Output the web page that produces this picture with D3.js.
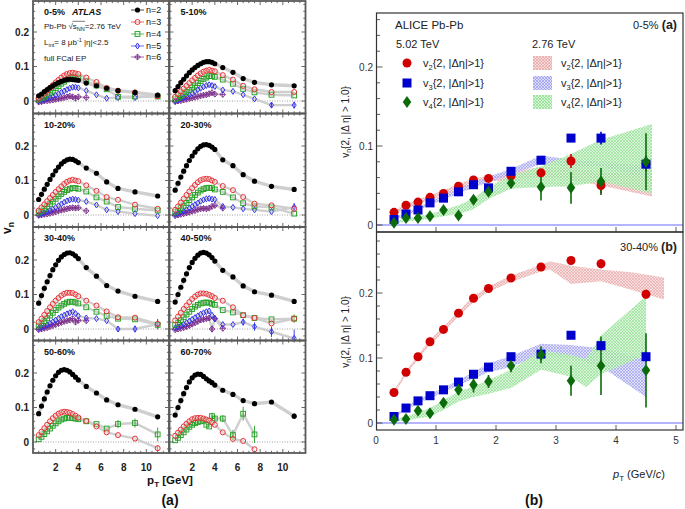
<!DOCTYPE html>
<html><head><meta charset="utf-8">
<script src="https://cdn.jsdelivr.net/npm/d3@7"></script>
<style>body{margin:0;background:#fff}svg{display:block}text{font-family:"Liberation Sans",Arial,Helvetica,sans-serif}</style>
</head><body><svg id="c" width="685" height="509"></svg>
<script>
// ---------------- ATLAS (panel a) data ----------------
const atlasPt = [0.5,0.75,1.0,1.25,1.5,1.75,2.0,2.25,2.5,2.75,3.0,3.25,3.5,3.75,4.0,4.7,5.6,6.5,7.5,9,11];
const centLabels = ["0-5%","5-10%","10-20%","20-30%","30-40%","40-50%","50-60%","60-70%"];
const c0_5 = {
 n2:[0.015,0.02,0.027,0.033,0.039,0.044,0.049,0.053,0.057,0.06,0.062,0.063,0.062,0.061,0.06,0.052,0.044,0.037,0.03,0.025,0.017],
 n3:[0.008,0.015,0.022,0.03,0.038,0.046,0.054,0.061,0.068,0.074,0.078,0.081,0.082,0.08,0.078,0.068,0.055,0.038,0.03,0.025,0.014],
 n4:[0.004,0.008,0.012,0.018,0.024,0.03,0.037,0.043,0.05,0.056,0.062,0.066,0.07,0.07,0.068,0.058,0.045,0.034,0.012,0.013,0.013],
 n5:[0.0,0.002,0.004,0.007,0.01,0.013,0.017,0.021,0.025,0.029,0.033,0.037,0.04,0.04,0.038,0.03,0.018,0.008,0.01,0.01,0.015],
 n6:[-0.003,-0.002,0.0,0.001,0.002,0.003,0.005,0.006,0.008,0.01,0.012,0.014,0.012,0.008,0.012,0.01]};
const c5_10 = {
 n2:[0.03,0.042,0.053,0.063,0.073,0.082,0.09,0.097,0.103,0.108,0.112,0.114,0.114,0.112,0.108,0.097,0.083,0.065,0.054,0.047,0.044],
 n3:[0.012,0.02,0.028,0.036,0.044,0.052,0.06,0.067,0.074,0.08,0.085,0.088,0.09,0.088,0.086,0.075,0.062,0.044,0.034,0.026,0.026],
 n4:[0.005,0.009,0.014,0.02,0.026,0.032,0.039,0.045,0.052,0.058,0.064,0.068,0.072,0.072,0.07,0.062,0.05,0.035,0.025,0.018,0.016],
 n5:[0.0,0.003,0.006,0.01,0.014,0.018,0.023,0.028,0.033,0.037,0.041,0.045,0.047,0.045,0.042,0.032,0.028,0.018,0.006,-0.012,-0.012],
 n6:[-0.002,0.0,0.001,0.003,0.005,0.007,0.009,0.011,0.013,0.015,0.017,0.018,0.021,0.024,0.02,0.019]};
const c10_20 = {
 n2:[0.045,0.06,0.075,0.089,0.103,0.116,0.128,0.139,0.148,0.155,0.16,0.162,0.161,0.157,0.152,0.136,0.121,0.096,0.077,0.067,0.055],
 n3:[0.013,0.022,0.031,0.04,0.049,0.058,0.067,0.075,0.083,0.09,0.096,0.1,0.102,0.1,0.098,0.086,0.07,0.052,0.044,0.03,0.018],
 n4:[0.007,0.012,0.018,0.025,0.032,0.039,0.047,0.054,0.061,0.067,0.072,0.076,0.078,0.078,0.076,0.068,0.051,0.039,0.023,0.018,0.013],
 n5:[0.001,0.003,0.006,0.009,0.013,0.017,0.022,0.027,0.032,0.037,0.041,0.044,0.046,0.045,0.043,0.039,0.029,0.015,0.01,0.004,-0.002],
 n6:[-0.001,0.0,0.002,0.003,0.005,0.007,0.009,0.012,0.014,0.016,0.018,0.02,0.021,0.02,0.021,0.012]};
const c20_30 = {
 n2:[0.072,0.092,0.11,0.127,0.143,0.158,0.171,0.182,0.192,0.199,0.203,0.204,0.202,0.197,0.19,0.16,0.143,0.117,0.098,0.083,0.074],
 n3:[0.015,0.025,0.036,0.047,0.058,0.068,0.078,0.087,0.095,0.101,0.104,0.105,0.104,0.1,0.096,0.084,0.072,0.052,0.033,0.028,0.018],
 n4:[0.008,0.013,0.02,0.027,0.035,0.043,0.051,0.058,0.065,0.071,0.075,0.078,0.079,0.078,0.074,0.067,0.051,0.034,0.025,0.022,0.004],
 n5:[0.002,0.004,0.007,0.011,0.015,0.02,0.025,0.03,0.035,0.04,0.044,0.047,0.048,0.046,0.045,0.025,0.022,0.018,0.015,0.01,0.023],
 n6:[-0.002,0.0,0.002,0.004,0.006,0.008,0.011,0.013,0.016,0.018,0.019,0.018,0.02,0.025,0.028,0.02]};
const c30_40 = {
 n2:[0.075,0.097,0.118,0.137,0.155,0.172,0.186,0.199,0.209,0.216,0.22,0.221,0.218,0.212,0.204,0.178,0.153,0.126,0.11,0.095,0.08],
 n3:[0.02,0.03,0.041,0.052,0.063,0.073,0.082,0.09,0.097,0.102,0.105,0.105,0.104,0.1,0.095,0.082,0.068,0.051,0.034,0.033,0.015],
 n4:[0.01,0.016,0.023,0.031,0.039,0.047,0.055,0.062,0.068,0.073,0.077,0.079,0.079,0.077,0.074,0.063,0.05,0.038,0.03,0.028,0.012],
 n5:[0.002,0.005,0.008,0.012,0.016,0.021,0.026,0.031,0.036,0.04,0.044,0.047,0.05,0.045,0.038,0.032,0.03,0.024,0.0,0.0,0.014],
 n6:[-0.002,0.0,0.002,0.004,0.007,0.01,0.013,0.016,0.019,0.022,0.024,0.026,0.03,0.02,0.025,0.024]};
const c40_50 = {
 n2:[0.078,0.1,0.121,0.141,0.16,0.178,0.193,0.205,0.214,0.22,0.222,0.22,0.215,0.207,0.197,0.17,0.151,0.125,0.108,0.098,0.08],
 n3:[0.025,0.036,0.047,0.058,0.068,0.078,0.087,0.094,0.1,0.103,0.103,0.102,0.099,0.095,0.09,0.082,0.063,0.04,0.032,0.016,0.03],
 n4:[0.012,0.018,0.026,0.034,0.042,0.05,0.058,0.065,0.07,0.074,0.076,0.077,0.076,0.073,0.07,0.055,0.048,0.04,0.032,0.028,0.03],
 n5:[0.003,0.006,0.01,0.014,0.018,0.023,0.028,0.033,0.038,0.043,0.047,0.05,0.052,0.04,0.03,0.013,0.013,0.02,0.007,-0.008,-0.027],
 n6:[-0.002,0.0,0.002,0.004,0.007,0.01,0.014,0.018,0.022,0.026,0.028,0.03,0.032,0.0,0.03,0.002]};
const c50_60 = {
 n2:[0.082,0.104,0.125,0.145,0.163,0.179,0.192,0.202,0.208,0.21,0.208,0.203,0.196,0.188,0.18,0.161,0.142,0.122,0.108,0.095,0.073],
 n3:[0.02,0.03,0.04,0.05,0.06,0.069,0.076,0.082,0.086,0.088,0.087,0.085,0.081,0.076,0.071,0.061,0.045,0.028,0.02,0.01,-0.018],
 n4:[0.008,0.015,0.023,0.031,0.039,0.047,0.054,0.06,0.065,0.068,0.07,0.07,0.069,0.068,0.066,0.06,0.052,0.039,0.052,0.055,0.022]};
const c60_70 = {
 n2:[0.078,0.1,0.12,0.14,0.158,0.174,0.186,0.194,0.197,0.196,0.19,0.183,0.177,0.172,0.165,0.15,0.138,0.12,0.111,0.116,0.075],
 n3:[0.018,0.027,0.036,0.045,0.053,0.06,0.066,0.069,0.07,0.07,0.068,0.065,0.062,0.057,0.05,0.028,0.009,0.003,-0.021],
 n4:[0.005,0.012,0.02,0.028,0.036,0.044,0.05,0.055,0.058,0.06,0.062,0.05,0.045,0.075,0.068,0.068,0.02,0.082,0.022]};
const atlasPanels = [c0_5,c5_10,c10_20,c20_30,c30_40,c40_50,c50_60,c60_70];
// statistical error bars: [panel, harmonic, pT index, error]
const atlasErr = [[1,5,19,0.008],[1,5,20,0.01],[3,5,20,0.012],[4,5,18,0.008],[4,5,19,0.01],[4,5,20,0.015],[4,3,20,0.01],[4,4,20,0.01],
 [5,5,17,0.01],[5,5,18,0.012],[5,5,19,0.015],[5,5,20,0.025],[5,4,20,0.012],[5,6,12,0.008],[5,6,13,0.01],[5,6,14,0.01],
 [6,4,18,0.012],[6,4,19,0.013],[6,4,20,0.02],[6,3,20,0.008],
 [7,4,13,0.01],[7,4,14,0.01],[7,4,15,0.01],[7,4,16,0.015],[7,4,17,0.02],[7,4,18,0.025],[7,2,20,0.008]];
const atlasYTicks = [0,0.1,0.2];
const atlasXTicks = [2,4,6,8,10];

// ---------------- ALICE (panel b) data ----------------
const alicePt = [0.3,0.5,0.7,0.9,1.125,1.375,1.625,1.875,2.25,2.75,3.25,3.75,4.5];
// 0-5%
const a_v2 = [0.016,0.025,0.029,0.035,0.04,0.049,0.057,0.059,0.062,0.066,0.081,0.05,0.078];
const a_v3 = [0.007,0.014,0.019,0.028,0.034,0.042,0.051,0.047,0.068,0.082,0.11,0.11,0.077];
const a_v4 = [0.003,0.009,0.009,0.011,0.019,0.012,0.032,0.042,0.053,0.048,0.047,0.055,0.08];
const a_v2e = [0,0,0,0,0,0,0,0,0.003,0.004,0.009,0.01,0.01];
const a_v3e = [0,0,0,0,0,0,0,0,0.003,0.005,0.004,0.008,0.006];
const a_v4e = [0.002,0.002,0.002,0.002,0.003,0.003,0.004,0.005,0.006,0.017,0.02,0.017,0.036];
const bandA_pt = [0.3,0.5,0.7,0.9,1.125,1.375,1.625,1.875,2.25,2.75,3.25,3.75,4.6];
const bandA_v2lo = [0.013,0.021,0.026,0.032,0.037,0.045,0.052,0.056,0.055,0.061,0.057,0.05,0.036];
const bandA_v2hi = [0.018,0.027,0.032,0.038,0.044,0.052,0.059,0.062,0.066,0.074,0.072,0.066,0.066];
const bandA_v3lo = [0.006,0.012,0.018,0.025,0.032,0.04,0.047,0.054,0.064,0.077,0.074,0.074,0.058];
const bandA_v3hi = [0.009,0.016,0.022,0.03,0.037,0.046,0.054,0.061,0.071,0.088,0.083,0.08,0.074];
const bandA_v4lo = [0.002,0.004,0.006,0.008,0.011,0.014,0.02,0.033,0.046,0.048,0.049,0.055,0.04];
const bandA_v4hi = [0.005,0.008,0.011,0.014,0.019,0.025,0.034,0.048,0.063,0.074,0.09,0.108,0.128];
// 30-40%
const b_v2 = [0.047,0.078,0.102,0.125,0.144,0.169,0.192,0.207,0.223,0.24,0.25,0.245,0.198];
const b_v3 = [0.01,0.023,0.034,0.042,0.051,0.063,0.075,0.086,0.102,0.106,0.135,0.119,0.102];
const b_v4 = [0.005,0.006,0.019,0.015,0.031,0.051,0.059,0.064,0.088,0.105,0.065,0.088,0.081];
const b_v2e = [0,0,0,0,0,0,0,0,0.003,0.004,0.005,0.007,0.007];
const b_v3e = [0,0,0,0,0,0,0,0,0.003,0.005,0.005,0.008,0.008];
const b_v4e = [0.004,0.004,0.005,0.005,0.006,0.008,0.012,0.01,0.01,0.013,0.023,0.045,0.057];
const bandB_v2pt = [0.3,0.5,0.7,0.9,1.125,1.375,1.625,1.875,2.25,2.75,2.9,3.25,3.75,4.25,4.8];
const bandB_v2lo = [0.044,0.074,0.098,0.12,0.14,0.164,0.186,0.202,0.217,0.233,0.236,0.214,0.218,0.205,0.19];
const bandB_v2hi = [0.05,0.08,0.105,0.128,0.148,0.172,0.195,0.21,0.227,0.243,0.249,0.242,0.236,0.232,0.224];
const bandB_v3pt = [0.3,0.5,0.7,0.9,1.125,1.375,1.625,1.875,2.25,2.75,3.25,3.75,4.5];
const bandB_v3lo = [0.008,0.02,0.03,0.038,0.047,0.058,0.068,0.078,0.086,0.105,0.1,0.087,0.04];
const bandB_v3hi = [0.012,0.025,0.036,0.045,0.054,0.066,0.078,0.092,0.103,0.122,0.12,0.115,0.098];
const bandB_v4pt = [0.3,0.5,0.7,0.9,1.125,1.375,1.625,1.875,2.25,2.75,3.25,3.5,3.75,4.5];
const bandB_v4lo = [0.002,0.004,0.007,0.01,0.02,0.033,0.04,0.045,0.054,0.082,0.071,0.055,0.075,0.105];
const bandB_v4hi = [0.006,0.01,0.016,0.023,0.035,0.048,0.056,0.066,0.082,0.112,0.105,0.098,0.135,0.195];
const aliceYTicks = [0,0.1,0.2];
const aliceXTicks = [0,1,2,3,4,5];

// ---------------- drawing ----------------
const svg = d3.select("#c");
const defs = svg.append("defs");

function hatch(id, bg, line){
  const p = defs.append("pattern").attr("id",id).attr("patternUnits","userSpaceOnUse").attr("width",3).attr("height",3);
  p.append("rect").attr("width",3).attr("height",3).attr("fill",bg);
  p.append("path").attr("d","M0,0L3,3M3,0L0,3").attr("stroke",line).attr("stroke-width",0.6);
}
hatch("hRed","#f7dada","#e29a9a");
hatch("hBlue","#dcdcfa","#8f8fee");
hatch("hGreen","#d6f5d6","#7fd97f");

// ===== panel (a) =====
const colX = [33,169.5], colW = 136;
const rowZero = [101,215,329,442];
const rowTop = [1,113.5,227,340.5], rowBot = [113.5,227,340.5,453];
const mcol = {2:"#000",3:"#e8262a",4:"#22a022",5:"#2b2bf0",6:"#7b2b8b"};

function atlasMarker(g,n,cx,cy){
  const c = mcol[n];
  if(n===2) g.append("circle").attr("cx",cx).attr("cy",cy).attr("r",2.6).attr("fill",c);
  else if(n===3) g.append("circle").attr("cx",cx).attr("cy",cy).attr("r",2.5).attr("fill","#fff").attr("fill-opacity",0.3).attr("stroke",c).attr("stroke-width",0.95);
  else if(n===4) g.append("rect").attr("x",cx-2.4).attr("y",cy-2.4).attr("width",4.8).attr("height",4.8).attr("fill","none").attr("stroke",c).attr("stroke-width",0.95);
  else if(n===5) g.append("path").attr("d",`M${cx},${cy-3}L${cx+2},${cy}L${cx},${cy+3}L${cx-2},${cy}Z`).attr("fill","none").attr("stroke",c).attr("stroke-width",0.95);
  else { g.append("path").attr("d",`M${cx},${cy-3}L${cx+2.8},${cy}L${cx},${cy+3}L${cx-2.8},${cy}ZM${cx},${cy-3}V${cy+3}M${cx-2.8},${cy}H${cx+2.8}`).attr("fill","none").attr("stroke",c).attr("stroke-width",0.85); }
}

atlasPanels.forEach((pd,pi)=>{
  const r = Math.floor(pi/2), c = pi%2;
  const x = d3.scaleLinear().domain([0,12]).range([colX[c], colX[c]+colW]);
  const y = d3.scaleLinear().domain([0,0.1]).range([rowZero[r], rowZero[r]-34.5]);
  const top = rowTop[r], bot = rowBot[r];
  defs.append("clipPath").attr("id","cp"+pi).append("rect").attr("x",colX[c]).attr("y",top).attr("width",colW).attr("height",bot-top);
  const g = svg.append("g").attr("clip-path",`url(#cp${pi})`);
  g.append("line").attr("x1",x(0)).attr("x2",x(12)).attr("y1",y(0)).attr("y2",y(0)).attr("stroke","#888").attr("stroke-width",0.8).attr("stroke-dasharray","1,1.5");
  const ns = Object.keys(pd).map(k=>+k.slice(1));
  ns.forEach(n=>{
    const vals = pd["n"+n];
    const pts = vals.map((v,i)=>[x(atlasPt[i]), y(v)]);
    g.append("path").attr("d",d3.line()(pts)).attr("fill","none").attr("stroke","#cfcfcf").attr("stroke-width",n===2?3.4:2.4).attr("stroke-linejoin","round");
  });
  atlasErr.filter(e=>e[0]===pi).forEach(e=>{
    const v = pd["n"+e[1]][e[2]], px = x(atlasPt[e[2]]);
    g.append("line").attr("x1",px).attr("x2",px).attr("y1",y(v-e[3])).attr("y2",y(v+e[3])).attr("stroke",mcol[e[1]]).attr("stroke-width",0.9);
  });
  ns.slice().reverse().forEach(n=>{
    pd["n"+n].forEach((v,i)=>atlasMarker(g,n,x(atlasPt[i]),y(v)));
  });
  const tg = svg.append("g").attr("stroke","#444").attr("stroke-width",0.8);
  d3.range(-0.02,0.29,0.02).forEach(t=>{
    const yy = y(t); if(yy<top+1||yy>bot-1) return;
    const major = atlasYTicks.some(m=>Math.abs(m-t)<1e-6);
    const L = major?4:2.2;
    tg.append("line").attr("x1",x(0)).attr("x2",x(0)+L).attr("y1",yy).attr("y2",yy);
    tg.append("line").attr("x1",x(12)).attr("x2",x(12)-L).attr("y1",yy).attr("y2",yy);
  });
  d3.range(0.5,12,0.5).forEach(t=>{
    const major = atlasXTicks.includes(t);
    const L = major?4:2.2;
    tg.append("line").attr("x1",x(t)).attr("x2",x(t)).attr("y1",bot).attr("y2",bot-L);
    tg.append("line").attr("x1",x(t)).attr("x2",x(t)).attr("y1",top).attr("y2",top+L);
  });
  svg.append("rect").attr("x",colX[c]).attr("y",top).attr("width",colW).attr("height",bot-top).attr("fill","none").attr("stroke","#5a5a5a").attr("stroke-width",1.8);
  svg.append("text").attr("x",colX[c]+11).attr("y",top+14).attr("font-size",9).attr("font-weight","bold").attr("fill","#111").text(centLabels[pi]);
  if(c===0){
    atlasYTicks.forEach(t=>svg.append("text").attr("x",29).attr("y",y(t)+3.5).attr("text-anchor","end").attr("font-size",10).attr("font-weight","bold").attr("fill","#222").text(t===0?"0":t.toFixed(1)));
  }
  if(r===3){
    atlasXTicks.forEach(t=>svg.append("text").attr("x",x(t)).attr("y",471).attr("text-anchor","middle").attr("font-size",10).attr("font-weight","bold").attr("fill","#222").text(t));
  }
});

svg.append("text").attr("x",72).attr("y",15).attr("font-size",9).attr("font-weight","bold").attr("font-style","italic").attr("fill","#111").text("ATLAS");
const t1 = svg.append("text").attr("x",44).attr("y",29).attr("font-size",8).attr("fill","#222");
t1.append("tspan").text("Pb-Pb √");
t1.append("tspan").text("s");
t1.append("tspan").attr("font-size",5.5).attr("dy",1.5).text("NN");
t1.append("tspan").attr("dy",-1.5).text("=2.76 TeV");
try{
  const nd = t1.node();
  const xs = nd.getStartPositionOfChar(7).x, xe = nd.getEndPositionOfChar(9).x;
  svg.append("line").attr("x1",xs-0.5).attr("x2",xe+0.3).attr("y1",21.3).attr("y2",21.3).attr("stroke","#222").attr("stroke-width",0.6);
}catch(e){}
const t2 = svg.append("text").attr("x",44).attr("y",45).attr("font-size",8).attr("fill","#222");
t2.append("tspan").text("L");
t2.append("tspan").attr("font-size",5.5).attr("dy",1.5).text("int");
t2.append("tspan").attr("dy",-1.5).text("= 8 μb");
t2.append("tspan").attr("font-size",5.5).attr("dy",-3).text("-1");
t2.append("tspan").attr("dy",3).text("   |η|<2.5");
svg.append("text").attr("x",44).attr("y",61).attr("font-size",8).attr("fill","#222").text("full FCal EP");
const legY = [10,22,34,46,57];
[2,3,4,5,6].forEach((n,i)=>{
  svg.append("line").attr("x1",131).attr("x2",144).attr("y1",legY[i]).attr("y2",legY[i]).attr("stroke",n===2?"#000":mcol[n]).attr("stroke-width",0.7);
  atlasMarker(svg,n,137.5,legY[i]);
  svg.append("text").attr("x",146).attr("y",legY[i]+3.2).attr("font-size",9).attr("fill","#111").text("n="+n);
});
const vt = svg.append("text").attr("transform","translate(11,228) rotate(-90)").attr("text-anchor","middle").attr("font-size",12).attr("font-weight","bold").attr("fill","#111");
vt.append("tspan").text("v");
vt.append("tspan").attr("font-size",8.5).attr("dy",2.5).text("n");
const pt = svg.append("text").attr("x",170).attr("y",484).attr("text-anchor","middle").attr("font-size",11.5).attr("font-weight","bold").attr("fill","#111");
pt.append("tspan").text("p");
pt.append("tspan").attr("font-size",8).attr("dy",2.5).text("T");
pt.append("tspan").attr("dy",-2.5).text(" [GeV]");
svg.append("text").attr("x",170).attr("y",505).attr("text-anchor","middle").attr("font-size",14).attr("font-weight","bold").attr("fill","#111").text("(a)");

// ===== panel (b) =====
const bx = d3.scaleLinear().domain([0,5]).range([376,676]);
const fx0 = 376.5, fx1 = 683;
const sub = [
  {y:d3.scaleLinear().domain([0,0.1]).range([225,146]), top:13, bot:232,
   v:[a_v2,a_v3,a_v4], e:[a_v2e,a_v3e,a_v4e],
   bands:[[bandA_pt,bandA_v2lo,bandA_v2hi,"hRed"],[bandA_pt,bandA_v3lo,bandA_v3hi,"hBlue"],[bandA_pt,bandA_v4lo,bandA_v4hi,"hGreen"]]},
  {y:d3.scaleLinear().domain([0,0.1]).range([423,358]), top:232, bot:430,
   v:[b_v2,b_v3,b_v4], e:[b_v2e,b_v3e,b_v4e],
   bands:[[bandB_v2pt,bandB_v2lo,bandB_v2hi,"hRed"],[bandB_v3pt,bandB_v3lo,bandB_v3hi,"hBlue"],[bandB_v4pt,bandB_v4lo,bandB_v4hi,"hGreen"]]}
];
const acol = ["#d10000","#0000cc","#0b6b0b"];
function aliceMarker(g,k,cx,cy){
  if(k===0) g.append("circle").attr("cx",cx).attr("cy",cy).attr("r",4.5).attr("fill",acol[0]);
  else if(k===1) g.append("rect").attr("x",cx-4.5).attr("y",cy-4.5).attr("width",9).attr("height",9).attr("fill",acol[1]);
  else g.append("path").attr("d",`M${cx},${cy-6}L${cx+4.3},${cy}L${cx},${cy+6}L${cx-4.3},${cy}Z`).attr("fill",acol[2]);
}
sub.forEach((s,si)=>{
  defs.append("clipPath").attr("id","cb"+si).append("rect").attr("x",fx0).attr("y",s.top).attr("width",fx1-fx0).attr("height",s.bot-s.top);
  const g = svg.append("g").attr("clip-path",`url(#cb${si})`);
  s.bands.forEach(b=>{
    const data = b[0].map((p,i)=>({p,lo:b[1][i],hi:b[2][i]}));
    g.append("path").attr("d",d3.area().x(d=>bx(d.p)).y0(d=>s.y(d.lo)).y1(d=>s.y(d.hi))(data)).attr("fill",`url(#${b[3]})`).attr("opacity",0.9);
  });
  g.append("line").attr("x1",fx0).attr("x2",fx1).attr("y1",s.y(0)).attr("y2",s.y(0)).attr("stroke","#6a6aff").attr("stroke-width",1);
  s.v.forEach((vals,k)=>{
    vals.forEach((v,i)=>{ const er = s.e[k][i]; if(er>0) g.append("line").attr("x1",bx(alicePt[i])).attr("x2",bx(alicePt[i])).attr("y1",s.y(v-er)).attr("y2",s.y(v+er)).attr("stroke",acol[k]).attr("stroke-width",1.6); });
  });
  s.v.forEach((vals,k)=>vals.forEach((v,i)=>aliceMarker(g,k,bx(alicePt[i]),s.y(v))));
  const tg = svg.append("g").attr("stroke","#333").attr("stroke-width",0.8);
  d3.range(0,0.3,0.02).forEach(t=>{
    const yy = s.y(t); if(yy<s.top+2) return;
    const major = aliceYTicks.some(m=>Math.abs(m-t)<1e-6);
    tg.append("line").attr("x1",fx0).attr("x2",fx0+(major?6:3.5)).attr("y1",yy).attr("y2",yy);
    if(major) svg.append("text").attr("x",373).attr("y",yy+3.5).attr("text-anchor","end").attr("font-size",10).attr("fill","#333").text(t===0?"0":t.toFixed(1));
  });
  aliceXTicks.forEach(t=>{ if(t>0) tg.append("line").attr("x1",bx(t)).attr("x2",bx(t)).attr("y1",s.bot).attr("y2",s.bot-5); });
  svg.append("rect").attr("x",fx0).attr("y",s.top).attr("width",fx1-fx0).attr("height",s.bot-s.top).attr("fill","none").attr("stroke","#333").attr("stroke-width",1.2);
  const yt = svg.append("text").attr("transform",`translate(349,${si===0?122:332}) rotate(-90)`).attr("text-anchor","middle").attr("font-size",10).attr("fill","#222");
  yt.append("tspan").text("v");
  yt.append("tspan").attr("font-size",7).attr("dy",2).text("n");
  yt.append("tspan").attr("dy",-2).text("{2, |Δ η| > 1.0}");
});
aliceXTicks.forEach(t=>svg.append("text").attr("x",bx(t)).attr("y",444).attr("text-anchor","middle").attr("font-size",10).attr("fill","#333").text(t));
const xt = svg.append("text").attr("x",613).attr("y",478).attr("font-size",11).attr("fill","#222");
xt.append("tspan").attr("font-style","italic").text("p");
xt.append("tspan").attr("font-size",8).attr("dy",2.5).text("T");
xt.append("tspan").attr("dy",-2.5).text(" (GeV/");
xt.append("tspan").attr("font-style","italic").text("c");
xt.append("tspan").text(")");
svg.append("text").attr("x",534).attr("y",505).attr("text-anchor","middle").attr("font-size",14).attr("font-weight","bold").attr("fill","#111").text("(b)");

svg.append("text").attr("x",395).attr("y",29).attr("font-size",11.5).attr("fill","#222").text("ALICE Pb-Pb");
const ra = svg.append("text").attr("x",677).attr("y",29).attr("text-anchor","end").attr("font-size",11).attr("fill","#222");
ra.append("tspan").text("0-5% ");
ra.append("tspan").attr("font-weight","bold").attr("font-size",12.5).text("(a)");
const rb = svg.append("text").attr("x",677).attr("y",251).attr("text-anchor","end").attr("font-size",11).attr("fill","#222");
rb.append("tspan").text("30-40% ");
rb.append("tspan").attr("font-weight","bold").attr("font-size",12.5).text("(b)");
svg.append("text").attr("x",396).attr("y",48).attr("font-size",11).attr("fill","#222").text("5.02 TeV");
svg.append("text").attr("x",532).attr("y",48).attr("font-size",11).attr("fill","#222").text("2.76 TeV");
const legRows = [63,83,102];
const hatchIds = ["hRed","hBlue","hGreen"];
legRows.forEach((ly,k)=>{
  aliceMarker(svg,k,407,ly);
  [423,561].forEach((lx)=>{
    const tt = svg.append("text").attr("x",lx).attr("y",ly+4).attr("font-size",11).attr("fill","#222");
    tt.append("tspan").text("v");
    tt.append("tspan").attr("font-size",7.5).attr("dy",2.5).text(k+2);
    tt.append("tspan").attr("dy",-2.5).text("{2, |Δη|>1}");
  });
  svg.append("rect").attr("x",533).attr("y",ly-7).attr("width",19).attr("height",14).attr("fill",`url(#${hatchIds[k]})`);
});
</script></body></html>
